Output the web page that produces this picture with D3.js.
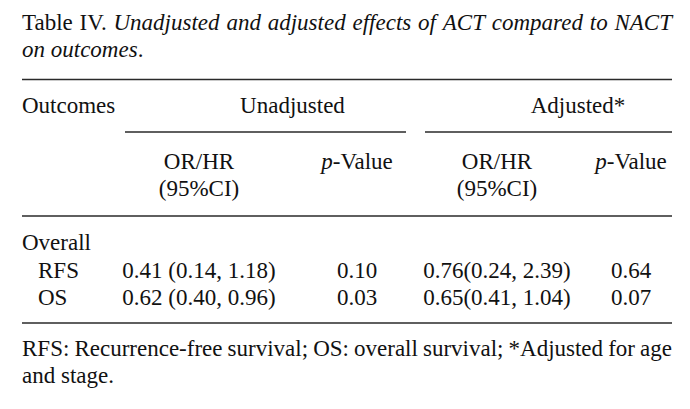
<!DOCTYPE html>
<html>
<head>
<meta charset="utf-8">
<script src="https://cdn.jsdelivr.net/npm/d3@7"></script>
<style>
  body { margin: 0; background: #fff; }
  text { font-family: 'Liberation Serif', 'Times New Roman', serif; fill: #111; }
</style>
</head>
<body>
<div id="chart"></div>
<script>
let width = 690
let height = 409

let outcomes = ['Overall', 'RFS', 'OS']
let unadjustedOR = ['', '0.41 (0.14, 1.18)', '0.62 (0.40, 0.96)']
let unadjustedP = ['', '0.10', '0.03']
let adjustedOR = ['', '0.76(0.24, 2.39)', '0.65(0.41, 1.04)']
let adjustedP = ['', '0.64', '0.07']

let groupHeaders = ['Unadjusted', 'Adjusted*']
let columns = ['unadjOR', 'unadjP', 'adjOR', 'adjP']

let captionLine1 = [
  ['Table', 'normal'], ['IV.', 'normal'], ['Unadjusted', 'italic'], ['and', 'italic'],
  ['adjusted', 'italic'], ['effects', 'italic'], ['of', 'italic'], ['ACT', 'italic'],
  ['compared', 'italic'], ['to', 'italic'], ['NACT', 'italic']
]
let footnoteLine1 = 'RFS: Recurrence-free survival; OS: overall survival; *Adjusted for age'
let footnoteLine2 = 'and stage.'

let left = 22
let right = 672
let fontSize = 23

let svg = d3
  .select('#chart')
  .append('svg')
  .attr('width', width)
  .attr('height', height)

let x = d3.scaleOrdinal().domain(columns).range([199, 357, 497, 631])
let groupX = d3.scaleOrdinal().domain(groupHeaders).range([292.5, 578])
let groupRule = d3.scaleOrdinal().domain(groupHeaders).range([[125, 406], [425, 672]])
let y = d3.scalePoint().domain(outcomes).range([250, 305])

// justified line, word by word
function justify(g, words, baseline) {
  let nodes = g
    .selectAll(null)
    .data(words)
    .enter()
    .append('text')
    .attr('y', baseline)
    .attr('font-size', fontSize)
    .attr('font-style', d => d[1])
    .text(d => d[0])
  let widths = nodes.nodes().map(n => n.getComputedTextLength())
  let gap = (right - left - d3.sum(widths)) / (words.length - 1)
  let pos = left
  nodes.attr('x', (d, i) => {
    let p = pos
    pos += widths[i] + gap
    return p
  })
}

justify(svg.append('g'), captionLine1, 30)

let cap2 = svg
  .append('text')
  .attr('x', left)
  .attr('y', 56.5)
  .attr('font-size', fontSize)
cap2.append('tspan').attr('font-style', 'italic').text('on outcomes')
cap2.append('tspan').text('.')

// rules
let rules = [79.5, 216, 323]
svg
  .selectAll('.rule')
  .data(rules)
  .enter()
  .append('line')
  .attr('class', 'rule')
  .attr('x1', left)
  .attr('x2', right)
  .attr('y1', d => d)
  .attr('y2', d => d)
  .attr('stroke', '#2a2a2a')
  .attr('stroke-width', 1.6)

svg
  .selectAll('.group-rule')
  .data(groupHeaders)
  .enter()
  .append('line')
  .attr('class', 'group-rule')
  .attr('x1', d => groupRule(d)[0])
  .attr('x2', d => groupRule(d)[1])
  .attr('y1', 132)
  .attr('y2', 132)
  .attr('stroke', '#2a2a2a')
  .attr('stroke-width', 1.6)

// header
svg
  .append('text')
  .attr('x', left)
  .attr('y', 112.5)
  .attr('font-size', fontSize)
  .text('Outcomes')

svg
  .selectAll('.group-label')
  .data(groupHeaders)
  .enter()
  .append('text')
  .attr('class', 'group-label')
  .attr('x', d => groupX(d))
  .attr('y', 112.5)
  .attr('text-anchor', 'middle')
  .attr('font-size', fontSize)
  .text(d => d)

svg
  .selectAll('.or-label')
  .data(['unadjOR', 'adjOR'])
  .enter()
  .append('text')
  .attr('class', 'or-label')
  .attr('x', d => x(d))
  .attr('y', 169)
  .attr('text-anchor', 'middle')
  .attr('font-size', fontSize)
  .call(t => t.append('tspan').attr('x', d => x(d)).text('OR/HR'))
  .call(t => t.append('tspan').attr('x', d => x(d)).attr('dy', 26.5).text('(95%CI)'))

svg
  .selectAll('.p-label')
  .data(['unadjP', 'adjP'])
  .enter()
  .append('text')
  .attr('class', 'p-label')
  .attr('x', d => x(d))
  .attr('y', 169)
  .attr('text-anchor', 'middle')
  .attr('font-size', fontSize)
  .call(t => t.append('tspan').attr('font-style', 'italic').text('p'))
  .call(t => t.append('tspan').text('-Value'))

// body rows
svg
  .selectAll('.outcome')
  .data(outcomes)
  .enter()
  .append('text')
  .attr('class', 'outcome')
  .attr('x', (d, i) => (i === 0 ? left : 38))
  .attr('y', d => y(d))
  .attr('font-size', fontSize)
  .text(d => d)

let cells = []
outcomes.forEach((o, i) => {
  cells.push({ row: o, col: 'unadjOR', value: unadjustedOR[i] })
  cells.push({ row: o, col: 'unadjP', value: unadjustedP[i] })
  cells.push({ row: o, col: 'adjOR', value: adjustedOR[i] })
  cells.push({ row: o, col: 'adjP', value: adjustedP[i] })
})

svg
  .selectAll('.cell')
  .data(cells.filter(d => d.value !== ''))
  .enter()
  .append('text')
  .attr('class', 'cell')
  .attr('x', d => x(d.col))
  .attr('y', d => y(d.row))
  .attr('text-anchor', 'middle')
  .attr('font-size', fontSize)
  .text(d => d.value)

// footnote
justify(
  svg.append('g'),
  footnoteLine1.split(' ').map(w => [w, 'normal']),
  356
)

svg
  .append('text')
  .attr('x', left)
  .attr('y', 383)
  .attr('font-size', fontSize)
  .text(footnoteLine2)
</script>
</body>
</html>
